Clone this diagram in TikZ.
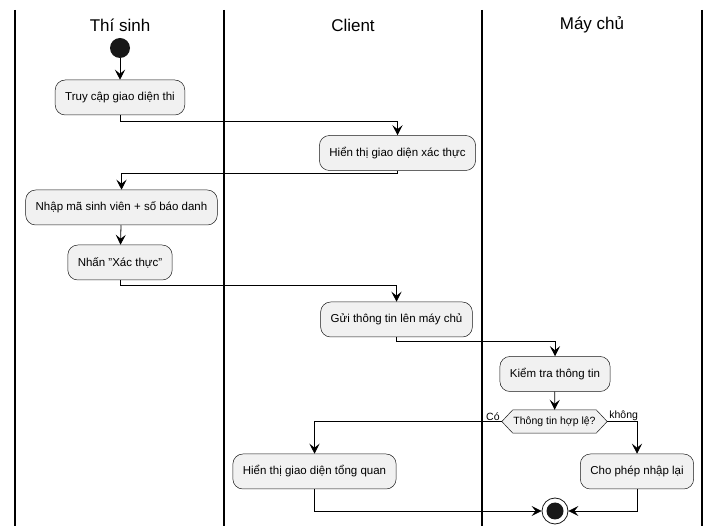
\documentclass[tikz,border=0pt]{standalone}
\usepackage{fontspec}
\setmainfont{Liberation Sans}
\usetikzlibrary{arrows.meta,backgrounds,calc}
\definecolor{boxfill}{HTML}{F1F1F1}
\definecolor{boxdraw}{HTML}{181818}
\tikzset{
  lane/.style={line width=1.3pt, black},
  header/.style={font=\fontsize{17}{20}\selectfont},
  act/.style={draw=boxdraw, line width=0.5pt, fill=boxfill, rounded corners=10pt,
    minimum height=35pt, inner xsep=10pt, font=\fontsize{11.5}{13}\selectfont},
  flow/.style={draw=black, line width=0.8pt, -{Stealth[length=10pt,width=10pt,inset=4pt]}},
  lbl/.style={font=\fontsize{10.5}{12}\selectfont, inner sep=1pt},
}
\begin{document}
\begin{tikzpicture}[x=1pt,y=-1pt]
\useasboundingbox (0,0) rectangle (718,526);
% lanes
\draw[lane] (15,10) -- (15,526);
\draw[lane] (224,10) -- (224,526);
\draw[lane] (482,10) -- (482,526);
\draw[lane] (702,10) -- (702,526);
\node[header] (h1) at (120,25) {Thí sinh};
\node[header] (h2) at (353,25) {Client};
\node[header] (h3) at (592,25) {Máy chủ};
% nodes
\node[circle, fill=boxdraw, minimum size=20pt, inner sep=0] (start) at (120,48) {};
\node[act] (b1) at (120,97.5) {Truy cập giao diện thi};
\node[act] (b2) at (397.5,153) {Hiển thị giao diện xác thực};
\node[act] (b3) at (121.5,207.5) {Nhập mã sinh viên + số báo danh};
\node[act] (b4) at (120,262.5) {Nhấn \symbol{34}Xác thực\symbol{34}};
\node[act] (b5) at (396.5,319.5) {Gửi thông tin lên máy chủ};
\node[act] (b6) at (555,374) {Kiểm tra thông tin};
\node[minimum width=105pt, minimum height=23pt, inner sep=0, font=\fontsize{10.5}{12}\selectfont] (d) at (554.5,421.5) {Thông tin hợp lệ?};
\begin{scope}[on background layer]
\fill[white] (0,0) rectangle (718,526);
\draw[draw=boxdraw, line width=0.5pt, fill=boxfill]
  (d.west) -- ($(d.north west)+(11,0)$) -- ($(d.north east)+(-11,0)$) -- (d.east)
  -- ($(d.south east)+(-11,0)$) -- ($(d.south west)+(11,0)$) -- cycle;
\end{scope}
\node[act] (b7) at (314.5,471.5) {Hiển thị giao diện tổng quan};
\node[act] (b8) at (637,471.5) {Cho phép nhập lại};
\node[circle, draw=boxdraw, line width=0.8pt, fill=white, minimum size=26pt, inner sep=0] (end) at (555,511) {};
\node[circle, fill=boxdraw, minimum size=17pt, inner sep=0] (endin) at (end.center) {};
% flows
\draw[flow] (start) -- (b1);
\draw[flow] (b1.south) -- ++(0,6) -| (b2.north);
\draw[flow] (b2.south) -- ++(0,3) -| (b3.north);
\draw[flow] (b3) -- (b4);
\draw[flow] (b4.south) -- ++(0,5) -| (b5.north);
\draw[flow] (b5.south) -- ++(0,4) -| (b6.north);
\draw[flow] (b6) -- (d);
\draw[flow] (d.west) -| (b7.north);
\draw[flow] (d.east) -| (b8.north);
\node[lbl, anchor=south east] (lc) at ($(d.west)+(-1,0)$) {Có};
\node[lbl, anchor=south west] (lk) at ($(d.east)+(1,0)$) {không};
\draw[flow] (b7.south) |- (end.west);
\draw[flow] (b8.south) |- (end.east);
\end{tikzpicture}
\end{document}
